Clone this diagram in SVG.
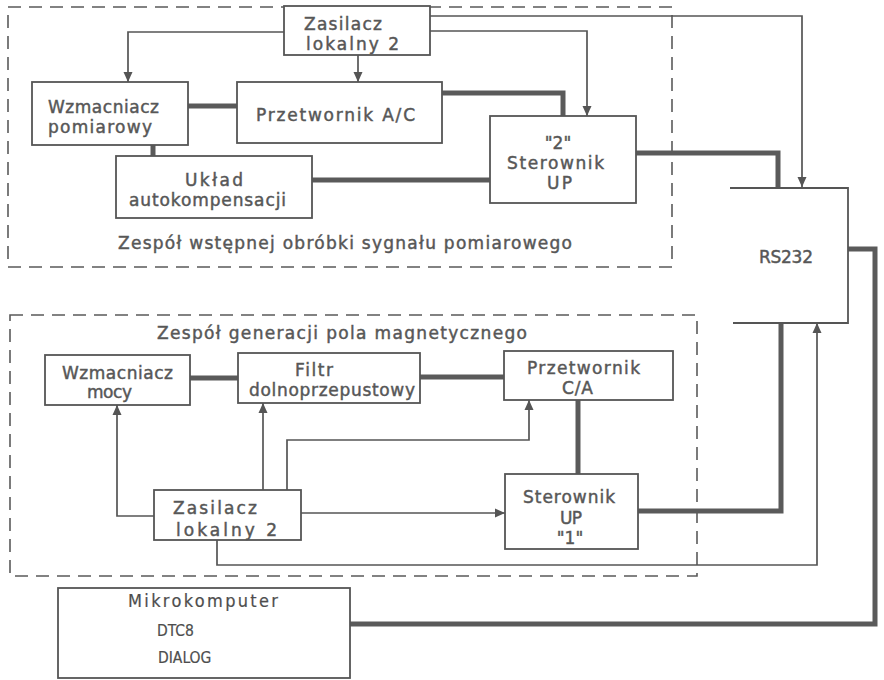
<svg xmlns="http://www.w3.org/2000/svg" width="884" height="680" viewBox="0 0 884 680">
<defs>
<style>
.dash{fill:none;stroke:#5a5a5a;stroke-width:1.6;stroke-dasharray:13 8}
.box{fill:#fff;stroke:#555;stroke-width:1.8}
.thin{fill:none;stroke:#555;stroke-width:1.7}
.thick{fill:none;stroke:#5a5a5a;stroke-width:5}
text{font-family:"DejaVu Sans","Liberation Sans",sans-serif;font-size:17px;fill:#575757;stroke:#575757;stroke-width:0.45}
text.lt{font-family:"DejaVu Sans Condensed","DejaVu Sans",sans-serif;font-size:18px;stroke-width:0.2;fill:#4d4d4d}
text.sm{font-size:15.5px}
</style>
<marker id="arr" viewBox="0 0 10 10" refX="10" refY="5" markerWidth="10" markerHeight="10" markerUnits="userSpaceOnUse" orient="auto">
<path d="M0,0.5 L10,5 L0,9.5 Z" fill="#555"/>
</marker>
</defs>
<rect width="884" height="680" fill="#fff"/>
<g id="group-top">
<rect class="dash" x="8" y="7" width="664" height="260"/>
<text x="118" y="249" textLength="454" lengthAdjust="spacing">Zespół wstępnej obróbki sygnału pomiarowego</text>
</g>
<g id="group-bottom">
<rect class="dash" x="10" y="315" width="687" height="261"/>
<text x="157" y="339" textLength="370" lengthAdjust="spacing">Zespół generacji pola magnetycznego</text>
</g>
<g id="connectors">
<path class="thin" d="M430,16 H802 V187" marker-end="url(#arr)"/>
<path class="thin" d="M430,31 H587 V116" marker-end="url(#arr)"/>
<path class="thin" d="M284,32 H128 V82" marker-end="url(#arr)"/>
<path class="thin" d="M358,55 V82" marker-end="url(#arr)"/>
<path class="thick" d="M188,106 H237"/>
<path class="thick" d="M153,145 V156"/>
<path class="thick" d="M312,180 H490"/>
<path class="thick" d="M442,93 H563 V116"/>
<path class="thick" d="M636,153 H778 V188"/>
<path class="thick" d="M848,249 H875 V624 H350"/>
<path class="thin" d="M154,516 H117 V405" marker-end="url(#arr)"/>
<path class="thin" d="M263,490 V403" marker-end="url(#arr)"/>
<path class="thin" d="M287,490 V440 H529 V400" marker-end="url(#arr)"/>
<path class="thin" d="M301,513 H505" marker-end="url(#arr)"/>
<path class="thin" d="M217,540 V565 H817 V323" marker-end="url(#arr)"/>
<path class="thick" d="M190,378 H238"/>
<path class="thick" d="M420,377 H504"/>
<path class="thick" d="M578,400 V474"/>
<path class="thick" d="M638,511 H781 V323"/>
</g>
<g id="zasilacz-top">
<rect class="box" x="284" y="6" width="146" height="49"/>
<text x="304" y="30" textLength="78" lengthAdjust="spacing">Zasilacz</text>
<text x="306" y="50" textLength="93" lengthAdjust="spacing">lokalny 2</text>
</g>
<g id="wzmacniacz-pomiarowy">
<rect class="box" x="32" y="82" width="156" height="63"/>
<text x="48" y="113" textLength="111" lengthAdjust="spacing">Wzmacniacz</text>
<text x="48" y="133" textLength="104" lengthAdjust="spacing">pomiarowy</text>
</g>
<g id="przetwornik-ac">
<rect class="box" x="237" y="82" width="205" height="61"/>
<text x="256" y="121" textLength="159" lengthAdjust="spacing">Przetwornik A/C</text>
</g>
<g id="uklad-autokompensacji">
<rect class="box" x="116" y="156" width="196" height="62"/>
<text x="185" y="186" textLength="58" lengthAdjust="spacing">Układ</text>
<text x="129" y="206" textLength="157" lengthAdjust="spacing">autokompensacji</text>
</g>
<g id="sterownik-2">
<rect class="box" x="490" y="116" width="146" height="87"/>
<text x="558" y="149" text-anchor="middle">"2"</text>
<text x="507" y="169" textLength="97" lengthAdjust="spacing">Sterownik</text>
<text x="547" y="189" textLength="25" lengthAdjust="spacing">UP</text>
</g>
<g id="rs232">
<path class="box" d="M730,188 H848 V323 H733" fill="none"/>
<text x="759" y="263" textLength="54" lengthAdjust="spacing">RS232</text>
</g>
<g id="wzmacniacz-mocy">
<rect class="box" x="45" y="355" width="145" height="50"/>
<text x="62" y="379" textLength="111" lengthAdjust="spacing">Wzmacniacz</text>
<text x="87" y="398" textLength="45" lengthAdjust="spacing">mocy</text>
</g>
<g id="filtr">
<rect class="box" x="238" y="353" width="182" height="50"/>
<text x="295" y="376" textLength="38" lengthAdjust="spacing">Filtr</text>
<text x="249" y="396" textLength="166" lengthAdjust="spacing">dolnoprzepustowy</text>
</g>
<g id="przetwornik-ca">
<rect class="box" x="504" y="351" width="169" height="49"/>
<text x="527" y="374" textLength="113" lengthAdjust="spacing">Przetwornik</text>
<text x="562" y="394" textLength="31" lengthAdjust="spacing">C/A</text>
</g>
<g id="zasilacz-bottom">
<rect class="box" x="154" y="490" width="147" height="50"/>
<text x="173" y="514" textLength="84" lengthAdjust="spacing">Zasilacz</text>
<text x="176" y="536" textLength="101" lengthAdjust="spacing">lokalny 2</text>
</g>
<g id="sterownik-1">
<rect class="box" x="505" y="474" width="133" height="75"/>
<text x="523" y="503" textLength="92" lengthAdjust="spacing">Sterownik</text>
<text x="560" y="524" textLength="22" lengthAdjust="spacing">UP</text>
<text x="570" y="544" text-anchor="middle">"1"</text>
</g>
<g id="mikrokomputer">
<rect class="box" x="58" y="588" width="292" height="90"/>
<text class="lt" x="128" y="607" textLength="150" lengthAdjust="spacing">Mikrokomputer</text>
<text class="lt sm" x="157" y="636">DTC8</text>
<text class="lt sm" x="158" y="663">DIALOG</text>
</g>
</svg>
